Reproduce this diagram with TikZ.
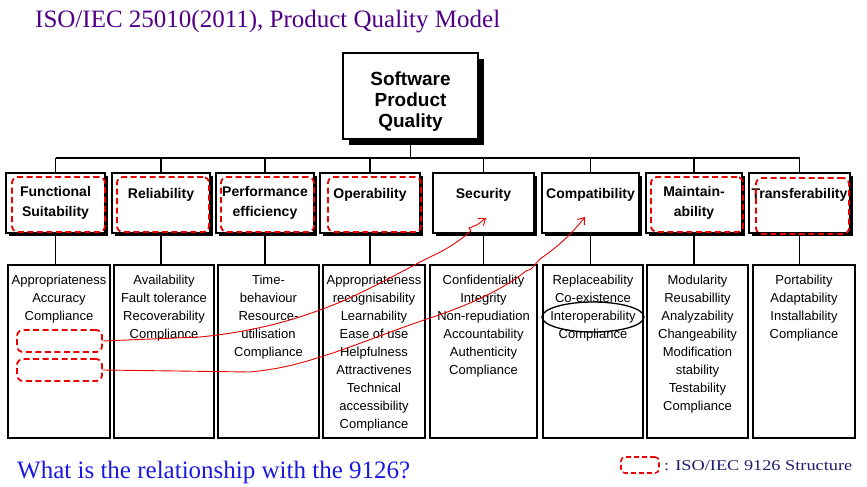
\documentclass[tikz,border=0pt]{standalone}
\usepackage{fontspec}
\setmainfont{Liberation Serif}
\setsansfont{Liberation Sans}
\usetikzlibrary{shadows,arrows.meta}

\definecolor{titlepurple}{RGB}{80,0,135}
\definecolor{askblue}{RGB}{25,25,225}
\definecolor{legendnavy}{RGB}{30,30,110}
\definecolor{markred}{RGB}{235,0,0}

\begin{document}
\begin{tikzpicture}[x=1pt,y=-1pt,
  topbox/.style={draw, line width=2pt, fill=white, minimum width=135pt, minimum height=86pt,
    inner sep=0pt, drop shadow={fill=black, opacity=1, shadow xshift=6pt, shadow yshift=-6pt}},
  toptext/.style={font=\sffamily\bfseries\fontsize{19}{21}\selectfont, align=center, inner sep=0pt},
  catbox/.style={draw, line width=1.8pt, fill=white, minimum height=60pt, inner sep=0pt,
    font=\sffamily\bfseries\fontsize{14}{20}\selectfont, align=center,
    drop shadow={fill=black, opacity=1, shadow xshift=3pt, shadow yshift=-3pt}},
  subbox/.style={draw, line width=2.2pt, fill=white, minimum height=173pt, inner sep=0pt},
  subtext/.style={font=\sffamily\fontsize{13}{18}\selectfont, align=center, inner sep=0pt, anchor=north},
  link/.style={line width=1.1pt},
  iso/.style={draw=markred, line width=1.8pt, dash pattern=on 6pt off 3.5pt, rounded corners=6pt,
    inner sep=0pt},
  scribble/.style={draw=markred, line width=0.9pt, line cap=round, line join=round,
    -{Straight Barb[length=6pt,width=9pt]}}
]
\useasboundingbox (0,0) rectangle (867,487);

% heading
\node[anchor=base west, text=titlepurple, font=\fontsize{25}{30}\selectfont, inner sep=0pt]
  (title) at (35,28) {ISO/IEC 25010(2011), Product Quality Model};

% root of the model
\node[topbox] (spq) at (410.5,96) {};
\node[toptext] (spqt) at (410.5,102) {Software\\Product\\Quality};

% characteristics
\node[catbox, minimum width=99pt]  (c1) at (55.5,203)  {Functional\\Suitability};
\node[catbox, minimum width=98pt]  (c2) at (161,203)   {Reliability\\~};
\node[catbox, minimum width=98pt]  (c3) at (265,203)   {Performance\\efficiency};
\node[catbox, minimum width=100pt] (c4) at (370,203)   {Operability\\~};
\node[catbox, minimum width=101pt] (c5) at (483.5,203) {Security\\~};
\node[catbox, minimum width=97pt]  (c6) at (590.5,203) {Compatibility\\~};
\node[catbox, minimum width=96pt]  (c7) at (694,203)   {Maintain-\\ability};
\node[catbox, minimum width=101pt] (c8) at (799.5,203) {Transferability\\~};

% tree connectors
\draw[link] (spq.south) -- ++(0,18) coordinate (bus);
\draw[link] (c1.north |- bus) -- (c8.north |- bus);
\foreach \c in {c1,c2,c3,c4,c5,c6,c7,c8}
  \draw[link] (\c.north |- bus) -- (\c.north);

% sub-characteristic columns
\node[subbox, minimum width=102pt] (l1) at (59,351.5)    {};
\node[subbox, minimum width=100pt] (l2) at (164,351.5)   {};
\node[subbox, minimum width=101pt] (l3) at (268.5,351.5) {};
\node[subbox, minimum width=102pt] (l4) at (374,351.5)   {};
\node[subbox, minimum width=107pt] (l5) at (483.5,351.5) {};
\node[subbox, minimum width=100pt] (l6) at (593,351.5)   {};
\node[subbox, minimum width=101pt] (l7) at (697.5,351.5) {};
\node[subbox, minimum width=102pt] (l8) at (804,351.5)   {};

\foreach \i in {1,...,8}
  \draw[link] (c\i.south) -- (c\i.south |- l\i.north);

\node[subtext] (t1) at (59,274.5)    {Appropriateness\\Accuracy\\Compliance};
\node[subtext] (t2) at (164,274.5)   {Availability\\Fault tolerance\\Recoverability\\Compliance};
\node[subtext] (t3) at (268.5,274.5) {Time-\\behaviour\\Resource-\\utilisation\\Compliance};
\node[subtext] (t4) at (374,274.5)   {Appropriateness\\recognisability\\Learnability\\Ease of use\\Helpfulness\\Attractivenes\\Technical\\accessibility\\Compliance};
\node[subtext] (t5) at (483.5,274.5) {Confidentiality\\Integrity\\Non-repudiation\\Accountability\\Authenticity\\Compliance};
\node[subtext] (t6) at (593,274.5)   {Replaceability\\Co-existence\\Interoperability\\Compliance};
\node[subtext] (t7) at (697.5,274.5) {Modularity\\Reusabillity\\Analyzability\\Changeability\\Modification\\stability\\Testability\\Compliance};
\node[subtext] (t8) at (804,274.5)   {Portability\\Adaptability\\Installability\\Compliance};

% ISO/IEC 9126 structure marks
\node[iso, minimum width=93pt, minimum height=55pt] (d1) at (58.5,204.5)  {};
\node[iso, minimum width=92pt, minimum height=55pt] (d2) at (163,204.5)   {};
\node[iso, minimum width=93pt, minimum height=55pt] (d3) at (267.5,204.5) {};
\node[iso, minimum width=93pt, minimum height=55pt] (d4) at (374.5,204.5) {};
\node[iso, minimum width=92pt, minimum height=55pt] (d7) at (697,204.5)   {};
\node[iso, minimum width=93pt, minimum height=56pt] (d8) at (802.5,206)   {};

\node[iso, minimum width=85pt, minimum height=22pt] (r1) at (59.5,341) {};
\node[iso, minimum width=85pt, minimum height=22pt] (r2) at (59.5,370) {};

% hand-drawn arrows
\coordinate (a1) at (486,218);
\coordinate (a2) at (585,217);
\draw[scribble] (r1.east) -- (200,337)
  .. controls (260,331) and (300,318) .. (333,305)
  .. controls (370,290) and (400,272) .. (430,257)
  .. controls (448,249) and (458,241) .. (465,236)
  -- (471,231) -- (469,228) -- (477,225) -- (a1);
\draw[scribble] (r2.east) -- (250,372)
  .. controls (290,368) and (310,360) .. (333,353)
  .. controls (370,340) and (400,328) .. (430,318)
  .. controls (470,305) and (505,288) .. (526,271)
  -- (531,269) -- (540,259)
  .. controls (556,248) and (570,236) .. (a2);

% circled entry
\draw[line width=1.3pt] (593,317) ellipse [x radius=51, y radius=15];

% question and key
\node[anchor=base west, text=askblue, font=\fontsize{25}{30}\selectfont, inner sep=0pt]
  (ask) at (17,478) {What is the relationship with the 9126?};
\node[iso, line width=1.6pt, rounded corners=4pt, dash pattern=on 5pt off 3pt,
  minimum width=38pt, minimum height=16pt] (key) at (640,465) {};
\node[anchor=base west, text=legendnavy, font=\fontsize{15}{18}\selectfont, inner sep=0pt]
  (keytext) at (664,470) {\scalebox{1.22}[1]{: ISO/IEC 9126 Structure}};
\end{tikzpicture}
\end{document}
